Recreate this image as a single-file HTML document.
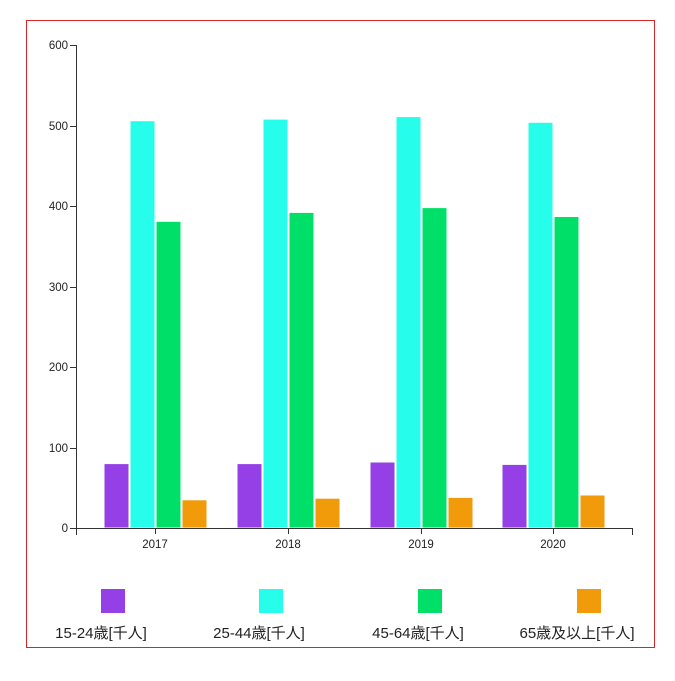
<!DOCTYPE html>
<html><head><meta charset="utf-8"><style>
body{margin:0;background:#fff;}
svg{display:block;font-family:"Liberation Sans","Noto Sans CJK JP",sans-serif;}
</style></head><body>
<svg width="675" height="681" viewBox="0 0 675 681" xmlns="http://www.w3.org/2000/svg">
<rect x="26.5" y="20.5" width="628" height="627" fill="none" stroke="#d62728" stroke-width="1"/>
<g font-size="11.5" fill="#222" text-anchor="end">
<text x="68" y="49">600</text>
<text x="68" y="130">500</text>
<text x="68" y="210">400</text>
<text x="68" y="291">300</text>
<text x="68" y="371">200</text>
<text x="68" y="452">100</text>
<text x="68" y="532">0</text>
</g>
<g stroke="#333" stroke-width="1">
<line x1="76.5" y1="45" x2="76.5" y2="528"/>
<line x1="70" y1="45.5" x2="76" y2="45.5"/>
<line x1="70" y1="126.5" x2="76" y2="126.5"/>
<line x1="70" y1="206.5" x2="76" y2="206.5"/>
<line x1="70" y1="287.5" x2="76" y2="287.5"/>
<line x1="70" y1="367.5" x2="76" y2="367.5"/>
<line x1="70" y1="448.5" x2="76" y2="448.5"/>
<line x1="70" y1="528.5" x2="76" y2="528.5"/>
</g>
<g stroke="#fff" stroke-width="1">
<rect x="104" y="463.6" width="25" height="64.4" fill="#9440e6"/>
<rect x="130" y="120.7" width="25" height="407.3" fill="#26fdea"/>
<rect x="156" y="221.3" width="25" height="306.7" fill="#00e068"/>
<rect x="182" y="499.8" width="25" height="28.2" fill="#f19a0a"/>
<rect x="237" y="463.6" width="25" height="64.4" fill="#9440e6"/>
<rect x="263" y="119.1" width="25" height="408.9" fill="#26fdea"/>
<rect x="289" y="212.4" width="25" height="315.6" fill="#00e068"/>
<rect x="315" y="498.2" width="25" height="29.8" fill="#f19a0a"/>
<rect x="370" y="462" width="25" height="66" fill="#9440e6"/>
<rect x="396" y="116.6" width="25" height="411.4" fill="#26fdea"/>
<rect x="422" y="207.6" width="25" height="320.4" fill="#00e068"/>
<rect x="448" y="497.4" width="25" height="30.6" fill="#f19a0a"/>
<rect x="502" y="464.4" width="25" height="63.6" fill="#9440e6"/>
<rect x="528" y="122.3" width="25" height="405.7" fill="#26fdea"/>
<rect x="554" y="216.5" width="25" height="311.5" fill="#00e068"/>
<rect x="580" y="495" width="25" height="33" fill="#f19a0a"/>
</g>
<g stroke="#333" stroke-width="1">
<line x1="76" y1="528.5" x2="632" y2="528.5"/>
<line x1="76.5" y1="528" x2="76.5" y2="535"/>
<line x1="632.5" y1="528" x2="632.5" y2="535"/>
<line x1="155.5" y1="528" x2="155.5" y2="534"/>
<line x1="288.5" y1="528" x2="288.5" y2="534"/>
<line x1="421.5" y1="528" x2="421.5" y2="534"/>
<line x1="553.5" y1="528" x2="553.5" y2="534"/>
</g>
<g font-size="11.5" fill="#222" text-anchor="middle">
<text x="155" y="548">2017</text>
<text x="288" y="548">2018</text>
<text x="421" y="548">2019</text>
<text x="553" y="548">2020</text>
</g>
<rect x="101" y="589" width="24" height="24" fill="#9440e6"/>
<rect x="259" y="589" width="24" height="24" fill="#26fdea"/>
<rect x="418" y="589" width="24" height="24" fill="#00e068"/>
<rect x="577" y="589" width="24" height="24" fill="#f19a0a"/>
<g font-size="15" fill="#222" text-anchor="middle">
<text x="101" y="638">15-24歳[千人]</text>
<text x="259" y="638">25-44歳[千人]</text>
<text x="418" y="638">45-64歳[千人]</text>
<text x="577" y="638">65歳及以上[千人]</text>
</g>
</svg>
</body></html>
